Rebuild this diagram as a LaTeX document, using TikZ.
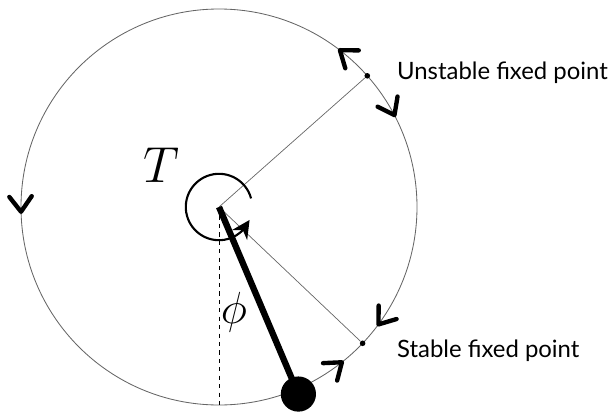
\RequirePackage{fix-cm}
\documentclass[tikz,border=0pt]{standalone}
\usepackage{fontspec}
\setmainfont{Lato}
\usepackage{amsmath}
\usetikzlibrary{arrows.meta,decorations.markings,bending}

\tikzset{
  flowtip/.tip={Straight Barb[length=3.8mm,width=5.6mm,line width=3.1pt,round]},
  fixpt/.style={circle,fill,inner sep=0pt,minimum size=1.4mm},
  lbl/.style={anchor=west,font=\fontsize{17}{20}\selectfont,text=black}
}

\begin{document}
\begin{tikzpicture}[=>stealth]
\useasboundingbox (-5.475,-5.15) rectangle (9.85,5.175);
\def\R{4.95}
\coordinate (C) at (0,0);
\coordinate (bottom) at (-90:\R);
% phase circle with the flow
\draw[black!60,line width=0.6pt,postaction={decorate},
  decoration={markings,
    mark=at position 27/360 with {\arrowreversed[black]{flowtip}},
    mark=at position 53/360 with {\arrow[black]{flowtip}},
    mark=at position 182/360 with {\arrow[black]{flowtip}},
    mark=at position 309/360 with {\arrow[black]{flowtip}},
    mark=at position 323/360 with {\arrowreversed[black]{flowtip}}}]
  (C) ++(0:\R) arc[start angle=0,end angle=360,radius=\R];
\node[fixpt] (U) at (41.5:\R) {};
\node[fixpt] (S) at (-43.5:\R) {};
\draw[black!60,line width=0.5pt](C)--(U)
(C)--(S);
\node[lbl] (Ulbl) at (4.33,3.35) {Unstable fixed point};
\node[lbl] (Slbl) at (4.33,-3.6) {Stable fixed point};
% pendulum
\draw[dashed,line width=0.6pt](C)--(bottom);
\node[circle,fill,inner sep=0pt,minimum size=0.88cm] (bob) at (-67:5.08) {};
\draw[line width=4.5pt](C)--(bob.center);
\node (phi) at (0.375,-2.63) {\fontsize{32}{36}\selectfont$\phi$};
% torque
\draw[line width=1.5pt,-{Stealth[length=4.5mm,width=4.5mm]}](C) ++(15:0.83) arc[start angle=15,end angle=337,radius=0.83];
\node (T) at (-1.45,1.05) {\fontsize{36}{42}\selectfont$T$};
\end{tikzpicture}
\end{document}
